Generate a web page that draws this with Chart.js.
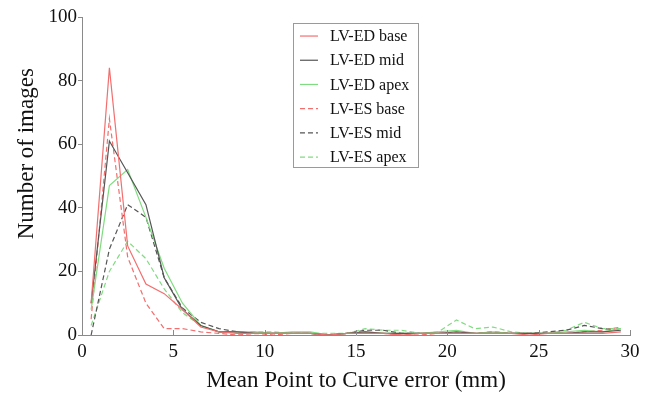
<!DOCTYPE html>
<html>
<head>
<meta charset="utf-8">
<script src="https://cdn.jsdelivr.net/npm/chart.js@4/dist/chart.umd.min.js"></script>
<style>
  html, body { margin: 0; padding: 0; background: #fff; }
  #wrap { width: 647px; height: 398px; position: relative; }
</style>
</head>
<body>
<div id="wrap"><canvas id="c" width="647" height="398"></canvas></div>
<script>
// Bin centres (mm)
const binCenters = [0.5, 1.5, 2.5, 3.5, 4.5, 5.5, 6.5, 7.5, 8.5, 9.5,
  10.5, 11.5, 12.5, 13.5, 14.5, 15.5, 16.5, 17.5, 18.5, 19.5,
  20.5, 21.5, 22.5, 23.5, 24.5, 25.5, 26.5, 27.5, 28.5, 29.5];

const seriesNames = ["LV-ED base", "LV-ED mid", "LV-ED apex", "LV-ES base", "LV-ES mid", "LV-ES apex"];

const edBase = [10, 84, 28, 16, 13, 8, 2.5, 1, 0.5, 0.5, 0.5, 0.5, 0.5, 0, 0.5, 0.5, 0.5, 0, 0.5, 0.5, 0.5, 0.5, 0.5, 0.5, 0, 0.5, 0.5, 0.5, 0.5, 1];
const edMid  = [10, 61, 51, 41, 18, 8, 3, 1, 1, 0.5, 0.5, 0.5, 0.5, 0, 0.5, 1, 0.5, 0.5, 0.5, 0.5, 1, 0.5, 0.5, 0.5, 0.5, 0.5, 0.5, 1, 1, 1.5];
const edApex = [8, 47, 52, 37, 21, 10, 3, 1, 1, 1, 0.5, 1, 1, 0, 0.5, 1, 0.5, 0.5, 0.5, 1, 1.5, 0.5, 1, 0.5, 0.5, 0.5, 1, 1.5, 1, 2];
const esBase = [5, 68, 24.5, 10, 2, 2, 1, 0.5, 0, 0.5, 0, 0.5, 0.5, 0, 0.5, 0.5, 0.5, 0, 0, 0.5, 0.5, 0.5, 0.5, 0.5, 0.5, 0.5, 0.5, 1, 1.5, 2.5];
const esMid  = [0, 27, 41, 37, 18, 8.5, 4, 2, 1, 0.5, 0.5, 0.5, 0.5, 0, 0.5, 1.5, 1.5, 0.5, 0.5, 0.5, 0.5, 0.5, 1, 0.5, 0.5, 1, 1.5, 3, 2, 1.5];
const esApex = [3, 20, 29.5, 24, 14.5, 7, 3, 1, 1, 1, 1, 0.5, 0.5, 0.5, 0.5, 2, 1.5, 1.5, 0.5, 1, 4.7, 2, 2.5, 1, 0.5, 0.5, 1.5, 4, 2, 2];

const xTicks = [0, 5, 10, 15, 20, 25, 30];
const yTicks = [0, 20, 40, 60, 80, 100];

const RED = '#f26f6f', BLACK = '#555555', GREEN = '#80dc80';
const SERIF = '"Liberation Serif", "Times New Roman", serif';

function pts(vals) { return vals.map((v, i) => ({x: binCenters[i], y: v})); }

const styles = [
  {color: RED, dash: []}, {color: BLACK, dash: []}, {color: GREEN, dash: []},
  {color: RED, dash: [5, 3]}, {color: BLACK, dash: [5, 3]}, {color: GREEN, dash: [5, 3]}
];
const allVals = [edBase, edMid, edApex, esBase, esMid, esApex];

const datasets = allVals.map((v, i) => ({
  label: seriesNames[i],
  data: pts(v),
  borderColor: styles[i].color,
  borderDash: styles[i].dash,
  borderWidth: 1.2,
  pointRadius: 0,
  tension: 0,
  fill: false
}));

const AXIS = '#8a8a8a';

const customPlugin = {
  id: 'custom',
  afterDraw(chart) {
    const ctx = chart.ctx;
    const ca = chart.chartArea;
    const xs = chart.scales.x;
    // inward x ticks
    ctx.save();
    ctx.strokeStyle = AXIS;
    ctx.lineWidth = 1;
    xTicks.forEach(t => {
      const px = Math.round(xs.getPixelForValue(t)) + 0.5;
      ctx.beginPath();
      ctx.moveTo(px, ca.bottom);
      ctx.lineTo(px, ca.bottom - 5);
      ctx.stroke();
    });
    ctx.restore();

    // y title
    ctx.save();
    ctx.fillStyle = '#111';
    ctx.font = '23px ' + SERIF;
    ctx.textAlign = 'center';
    ctx.textBaseline = 'middle';
    ctx.translate(ca.left - 55, ca.top + (ca.bottom - ca.top) * 0.43);
    ctx.rotate(-Math.PI / 2);
    ctx.fillText('Number of images', 0, 0);
    ctx.restore();

    // legend box
    const w = ca.right - ca.left, h = ca.bottom - ca.top;
    const bx = ca.left + w * 0.385, by = ca.top + h * 0.019;
    const bw = 125, bh = 144;
    ctx.save();
    ctx.fillStyle = '#fff';
    ctx.fillRect(bx, by, bw, bh);
    ctx.strokeStyle = '#9a9a9a';
    ctx.lineWidth = 1;
    ctx.strokeRect(Math.round(bx) + 0.5, Math.round(by) + 0.5, bw, bh);
    ctx.font = '16px ' + SERIF;
    ctx.textBaseline = 'middle';
    ctx.textAlign = 'left';
    chart.data.datasets.forEach((ds, i) => {
      const ry = by + 13 + i * 24.2;
      ctx.strokeStyle = ds.borderColor;
      ctx.lineWidth = 1.2;
      ctx.setLineDash(ds.borderDash || []);
      ctx.beginPath();
      ctx.moveTo(bx + 7, ry);
      ctx.lineTo(bx + 25, ry);
      ctx.stroke();
      ctx.setLineDash([]);
      ctx.fillStyle = '#111';
      ctx.fillText(ds.label, bx + 37, ry + 1);
    });
    ctx.restore();
  }
};

new Chart(document.getElementById('c'), {
  type: 'line',
  data: { datasets },
  plugins: [customPlugin],
  options: {
    responsive: false,
    animation: false,
    devicePixelRatio: 1,
    layout: { padding: { left: 0, right: 17, top: 17, bottom: 0 } },
    plugins: { legend: { display: false }, tooltip: { enabled: false } },
    scales: {
      x: {
        type: 'linear',
        min: 0, max: 30,
        afterFit(s) { s.height = 63; },
        afterBuildTicks(s) { s.ticks = xTicks.map(v => ({value: v})); },
        grid: { drawOnChartArea: false, drawTicks: false, color: AXIS },
        border: { display: true, color: AXIS, width: 1 },
        ticks: { color: '#111', font: { family: SERIF, size: 19 }, padding: 6, maxRotation: 0 },
        title: { display: true, text: 'Mean Point to Curve error (mm)', color: '#111',
                 font: { family: SERIF, size: 23 }, padding: { top: 0, bottom: 3 } }
      },
      y: {
        type: 'linear',
        min: 0, max: 100,
        afterFit(s) { s.width = 82; },
        afterBuildTicks(s) { s.ticks = yTicks.map(v => ({value: v})); },
        grid: { drawOnChartArea: false, drawTicks: true, tickLength: 4, color: AXIS },
        border: { display: true, color: AXIS, width: 1 },
        ticks: { color: '#111', font: { family: SERIF, size: 19 }, padding: 1 }
      }
    }
  }
});
</script>
</body>
</html>
